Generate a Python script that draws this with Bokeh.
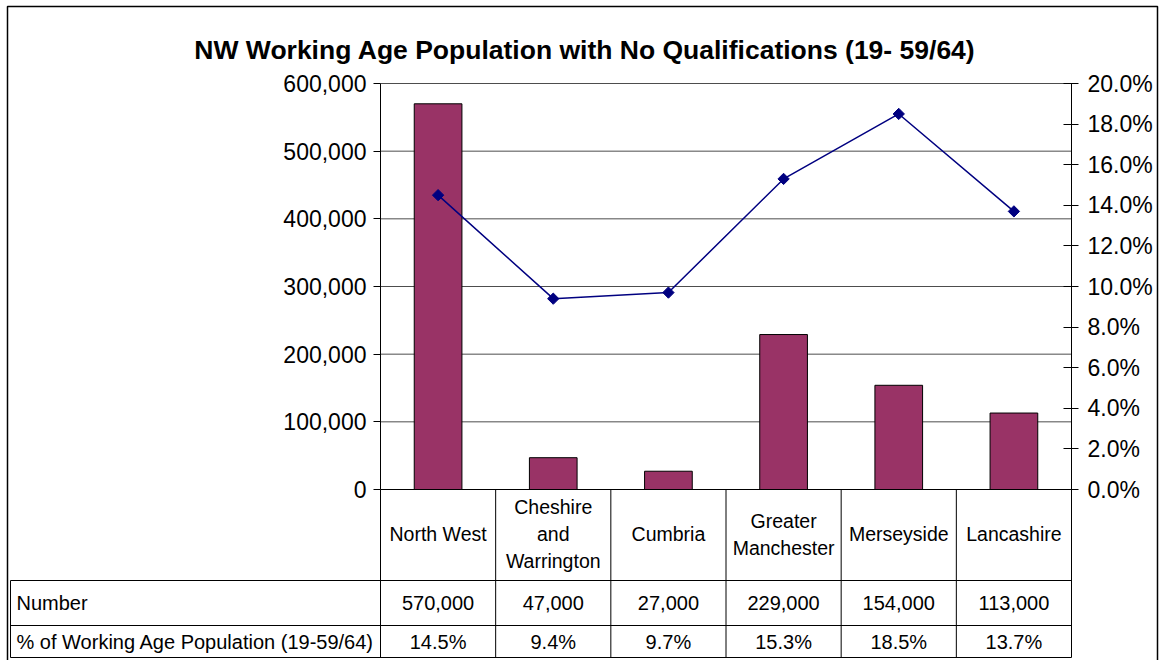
import math
from bokeh.plotting import figure
from bokeh.models import (Range1d, LinearAxis, FixedTicker, NumeralTickFormatter,
                          PrintfTickFormatter)
from bokeh.core.properties import value
from bokeh.embed import file_html
from bokeh.resources import INLINE

# ---- data -------------------------------------------------------------
regions = ["North West", "Cheshire and Warrington", "Cumbria",
           "Greater Manchester", "Merseyside", "Lancashire"]
region_lines = [["North West"], ["Cheshire", "and", "Warrington"], ["Cumbria"],
                ["Greater", "Manchester"], ["Merseyside"], ["Lancashire"]]
number_no_quals = [570000, 47000, 27000, 229000, 154000, 113000]
pct_no_quals = [14.5, 9.4, 9.7, 15.3, 18.5, 13.7]
count_ticks = [0, 100000, 200000, 300000, 400000, 500000, 600000]
pct_ticks = [0, 2, 4, 6, 8, 10, 12, 14, 16, 18, 20]
row_labels = ["Number", "% of Working Age Population (19-59/64)"]
title_text = "NW Working Age Population with No Qualifications (19- 59/64)"

# ---- page geometry (pixels) --------------------------------------------
W, H = 1165, 660
AX_L, AX_R = 380, 1071          # left / right value axes
Y_ZERO, Y_TOP = 489, 83         # baseline and top gridline
ROW1, ROW2, ROW3 = 580, 625, 657  # table row boundaries
TABLE_L = 10
FONT = value("Liberation Sans")

n = len(regions)
cw = (AX_R - AX_L) / n
idx = list(range(n))

x_start = -0.5 - AX_L / cw
x_end = (n - 0.5) + (W - AX_R) / cw
span = Y_ZERO - Y_TOP
cmax, pmax = count_ticks[-1], pct_ticks[-1]

p = figure(width=W, height=H, min_border=0,
           x_range=Range1d(x_start, x_end),
           y_range=Range1d(-(H - Y_ZERO) / span * cmax, cmax + Y_TOP / span * cmax),
           x_axis_type=None, y_axis_type=None,
           output_backend="svg", toolbar_location=None)
p.title.visible = False
p.outline_line_color = None
p.background_fill_color = "white"
p.border_fill_color = "white"
p.extra_y_ranges = {
    "pct": Range1d(-(H - Y_ZERO) / span * pmax, pmax + Y_TOP / span * pmax),
    "px": Range1d(H, 0),
}
p.extra_x_ranges = {"px": Range1d(0, W)}

# ---- horizontal gridlines ----------------------------------------------
grid_vals = count_ticks[1:]
p.segment(x0=[-0.5] * len(grid_vals), x1=[n - 0.5] * len(grid_vals),
          y0=grid_vals, y1=grid_vals, line_color="#4d4d4d", line_width=1)

# ---- bars ----------------------------------------------------------------
p.vbar(x=idx, top=number_no_quals, width=0.414, bottom=0,
       fill_color="#993366", line_color="black", line_width=1)

# ---- percentage line with diamond markers --------------------------------
p.line(x=idx, y=pct_no_quals, y_range_name="pct",
       line_color="#000080", line_width=1.5)
p.scatter(x=idx, y=pct_no_quals, y_range_name="pct", marker="square",
          angle=math.pi / 4, size=8, fill_color="#000080", line_color="#000080")

# ---- axes ----------------------------------------------------------------
left_ax = LinearAxis(fixed_location=-0.5, bounds=(0, cmax),
                     ticker=FixedTicker(ticks=count_ticks),
                     formatter=NumeralTickFormatter(format="0,0"))
right_ax = LinearAxis(y_range_name="pct", fixed_location=n - 0.5, bounds=(0, pmax),
                      ticker=FixedTicker(ticks=pct_ticks),
                      formatter=PrintfTickFormatter(format="%.1f%%"))
for ax, t_in, t_out in ((left_ax, 0, 7), (right_ax, 8, 7)):
    ax.major_tick_in = t_in
    ax.major_tick_out = t_out
    ax.minor_tick_line_color = None
    ax.axis_line_color = "black"
    ax.major_tick_line_color = "black"
    ax.major_label_text_font = "Liberation Sans"
    ax.major_label_text_font_size = "23px"
    ax.major_label_text_color = "black"
left_ax.major_label_standoff = 7
right_ax.major_label_standoff = 9
p.add_layout(left_ax, "left")
p.add_layout(right_ax, "right")

# ---- data table under the chart ---------------------------------------
# column boundaries follow the category positions
bounds_x = [i - 0.5 for i in range(n + 1)]
p.segment(x0=bounds_x, x1=bounds_x, y0=[Y_ZERO] * (n + 1), y1=[ROW3] * (n + 1),
          y_range_name="px", line_color="black", line_width=1)
p.segment(x0=[TABLE_L] * 3, x1=[AX_R] * 3, y0=[ROW1, ROW2, ROW3],
          y1=[ROW1, ROW2, ROW3], x_range_name="px", y_range_name="px",
          line_color="black", line_width=1)
p.segment(x0=[-0.5], x1=[n - 0.5], y0=[Y_ZERO], y1=[Y_ZERO],
          y_range_name="px", line_color="black", line_width=1)
p.segment(x0=[TABLE_L], x1=[TABLE_L], y0=[ROW1], y1=[ROW3],
          x_range_name="px", y_range_name="px", line_color="black", line_width=1)

# category header cells
hx, hy, ht = [], [], []
header_mid = (Y_ZERO + ROW1) / 2 - 1
line_gap = 27
for i, lines in enumerate(region_lines):
    first = header_mid - line_gap * (len(lines) - 1) / 2
    for k, s in enumerate(lines):
        hx.append(i)
        hy.append(first + k * line_gap)
        ht.append(s)
p.text(x=hx, y=hy, text=ht, y_range_name="px", text_font=FONT,
       text_font_size=value("19.5px"), text_align="center",
       text_baseline="middle", text_color="black")

num_txt = [f"{v:,}" for v in number_no_quals]
pct_txt = [f"{v:.1f}%" for v in pct_no_quals]
p.text(x=idx, y=[(ROW1 + ROW2) / 2] * n, text=num_txt, y_range_name="px",
       text_font=FONT, text_font_size=value("20px"), text_align="center",
       text_baseline="middle", text_color="black")
p.text(x=idx, y=[(ROW2 + ROW3) / 2] * n, text=pct_txt, y_range_name="px",
       text_font=FONT, text_font_size=value("20px"), text_align="center",
       text_baseline="middle", text_color="black")
p.text(x=[TABLE_L + 6] * 2, y=[(ROW1 + ROW2) / 2, (ROW2 + ROW3) / 2],
       text=row_labels, x_range_name="px", y_range_name="px",
       text_font=FONT, text_font_size=value("20px"), text_align="left",
       text_baseline="middle", text_color="black")

# ---- title and outer frame ---------------------------------------------
p.text(x=[(187 + 982) / 2], y=[49], text=[title_text], x_range_name="px",
       y_range_name="px", text_font=FONT, text_font_size=value("26.5px"),
       text_font_style="bold", text_align="center", text_baseline="middle",
       text_color="black")
p.quad(left=[7], right=[1157], top=[6], bottom=[662], x_range_name="px",
       y_range_name="px", fill_color=None, line_color="black", line_width=1.5)

open("out.html", "w").write(file_html(p, INLINE))
